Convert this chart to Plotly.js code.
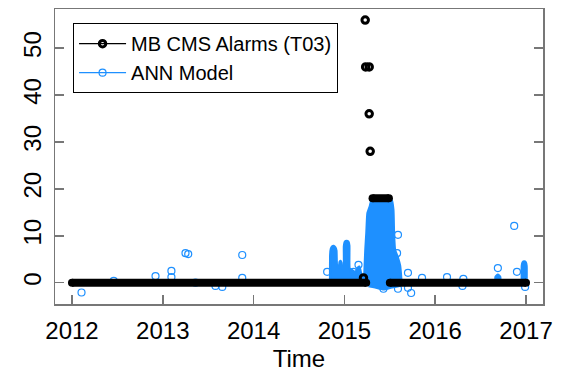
<!DOCTYPE html>
<html>
<head>
<meta charset="utf-8">
<script src="https://cdn.plot.ly/plotly-3.0.1.min.js"></script>
<style>html,body{margin:0;padding:0;background:#fff}#chart{width:563px;height:383px}</style>
</head>
<body>
<div id="chart"></div>
<script>
// ---- data (years as decimal) ----
const seriesNames = ["MB CMS Alarms (T03)", "ANN Model"];
const xTicks = [2012, 2013, 2014, 2015, 2016, 2017];
const yTicks = [0, 10, 20, 30, 40, 50];

// MB CMS alarms: long runs of constant values (dense daily points)
const alarmRun1X = [2012.0, 2015.24];   const alarmRun1Y = [0, 0];
const alarmRun2X = [2015.31, 2015.49];  const alarmRun2Y = [18, 18];
const alarmRun3X = [2015.50, 2017.0];   const alarmRun3Y = [0, 0];
// MB CMS alarms: isolated points
const alarmPtX = [2015.21, 2015.229, 2015.234, 2015.273, 2015.273, 2015.284];
const alarmPtY = [1.0, 56, 46, 46, 36, 28];

// ANN model: dense clouds of points (outline of the packed region)
const annPeakX = [2015.215,2015.222,2015.232,2015.243,2015.255,2015.28,2015.30,2015.52,2015.538,2015.545,2015.556,2015.585,2015.612,2015.625,2015.615,2015.52,2015.43,2015.34,2015.265];
const annPeakY = [-0.3,2.3,7.0,10.5,14.8,16.2,17.5,17.6,15.5,10.5,7.0,5.5,3.6,0.6,-0.6,-1.0,-1.4,-1.0,-0.7];
const annPreX = [2014.843,2014.845,2014.852,2014.866,2014.882,2014.899,2014.911,2014.917,2014.94,2014.948,2014.957,2014.967,2014.975,2014.993,2014.996,2015.006,2015.024,2015.043,2015.053,2015.057,2015.09,2015.12,2015.15,2015.165,2015.18,2015.205,2015.21];
const annPreY = [-0.3,6.0,7.2,7.7,7.8,7.5,6.8,3.8,3.2,4.4,4.6,4.2,3.0,3.0,7.8,8.7,8.9,8.7,7.9,3.0,2.6,2.2,3.2,3.4,2.2,1.0,-0.3];
const annEndX = [2016.955,2016.955,2016.963,2016.98,2016.997,2017.005,2017.005];
const annEndY = [-0.5,3.6,4.3,4.5,4.3,3.6,-0.5];
const annSmallX = [2016.665,2016.665,2016.69,2016.715,2016.715];
const annSmallY = [-0.3,1.2,1.7,1.2,-0.3];
// ANN model: scattered points
const annPtX = [2012.105,2012.92,2013.095,2013.095,2013.25,2013.28,2013.875,2013.875,2013.58,2013.655,2012.46,2013.36,2014.81,2015.59,2015.58,2015.70,2015.735,2015.70,2015.59,2015.43,2015.855,2016.13,2016.30,2016.31,2016.69,2016.87,2016.90,2016.99,2015.155,2015.10];
const annPtY = [-2.1,1.4,2.5,1.2,6.3,6.1,5.9,1.0,-0.7,-0.9,0.4,0.0,2.3,10.2,6.3,2.1,-2.2,-1.1,-1.3,-1.3,1.0,1.2,-0.7,0.8,3.1,12.1,2.3,-0.9,3.8,2.3];

const BLUE = '#1E90FF';
const BLACK = '#000000';

function withGaps(xs, ys) {           // separate points so no connecting line is drawn
  const gx = [], gy = [];
  xs.forEach((x, i) => { gx.push(x, null); gy.push(ys[i], null); });
  return [gx, gy];
}
function joinRuns(runs) {
  const gx = [], gy = [];
  runs.forEach((r, i) => { if (i) { gx.push(null); gy.push(null); } gx.push(...r[0]); gy.push(...r[1]); });
  return [gx, gy];
}

const cloud = (xs, ys) => ({
  x: xs, y: ys, type: 'scatter', mode: 'lines', fill: 'toself',
  fillcolor: BLUE, line: {color: BLUE, width: 2.5, shape: 'spline', smoothing: 0.4}, showlegend: false, hoverinfo: 'skip'
});

const [annGX, annGY] = withGaps(annPtX, annPtY);
const [alGX, alGY] = withGaps(alarmPtX, alarmPtY);
const [runX, runY] = joinRuns([[alarmRun1X, alarmRun1Y], [alarmRun2X, alarmRun2Y], [alarmRun3X, alarmRun3Y]]);

const data = [
  cloud(annPreX, annPreY),
  cloud(annPeakX, annPeakY),
  cloud(annEndX, annEndY),
  cloud(annSmallX, annSmallY),
  {
    x: annGX, y: annGY, type: 'scatter', mode: 'lines+markers', name: seriesNames[1],
    connectgaps: false, legendrank: 2,
    line: {color: BLUE, width: 1.2},
    marker: {symbol: 'circle-open', size: 7, color: BLUE, line: {width: 1.2, color: BLUE}}
  },
  {
    x: runX, y: runY, type: 'scatter', mode: 'lines+markers', connectgaps: false,
    line: {color: BLACK, width: 8}, marker: {symbol: 'circle', size: 8, color: BLACK},
    showlegend: false, hoverinfo: 'skip'
  },
  {
    x: alGX, y: alGY, type: 'scatter', mode: 'lines+markers', name: seriesNames[0],
    connectgaps: false, legendrank: 1,
    line: {color: BLACK, width: 1.2},
    marker: {symbol: 'circle-open', size: 6.5, color: BLACK, line: {width: 3, color: BLACK}}
  }
];

const FONT = 'Liberation Sans, Arial, Helvetica, sans-serif';
const AXC = '#777777';
const layout = {
  width: 563, height: 383,
  margin: {l: 55, r: 20, t: 9, b: 79, pad: 0},
  paper_bgcolor: '#ffffff', plot_bgcolor: '#ffffff',
  font: {family: FONT, color: '#000'},
  showlegend: true,
  legend: {
    x: 0.037, y: 0.952, xanchor: 'left', yanchor: 'top',
    bordercolor: '#000', borderwidth: 1, bgcolor: '#fff',
    font: {family: FONT, size: 20, color: '#000'},
    itemwidth: 47,
    traceorder: 'normal'
  },
  xaxis: {
    range: [2011.813, 2017.187], tickvals: xTicks, ticktext: xTicks.map(String),
    ticks: 'inside', ticklen: 9, tickwidth: 1.5, tickcolor: AXC,
    showline: true, linecolor: AXC, linewidth: 1.5, mirror: true,
    showgrid: false, zeroline: false,
    tickfont: {family: FONT, size: 24, color: '#000'},
    ticklabelstandoff: 5,
    title: {text: 'Time', font: {family: FONT, size: 24, color: '#000'}, standoff: 7}
  },
  yaxis: {
    range: [-4.55, 58.35], tickvals: yTicks, ticktext: yTicks.map(String),
    tickangle: -90,
    ticks: 'inside', ticklen: 9, tickwidth: 1.5, tickcolor: AXC,
    showline: true, linecolor: AXC, linewidth: 1.5, mirror: 'ticks',
    showgrid: false, zeroline: false,
    tickfont: {family: FONT, size: 24, color: '#000'},
    ticklabelstandoff: 3
  }
};

Plotly.newPlot('chart', data, layout, {staticPlot: true, displayModeBar: false});
</script>
</body>
</html>
